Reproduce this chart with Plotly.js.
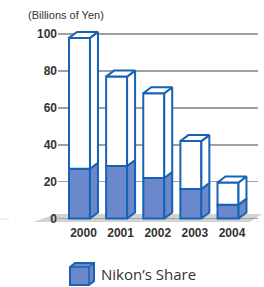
<!DOCTYPE html>
<html>
<head>
<meta charset="utf-8">
<script src="https://cdn.plot.ly/plotly-3.0.1.min.js"></script>
<style>
html,body{margin:0;padding:0;background:#fff;}
#chart{width:264px;height:287px;}
</style>
</head>
<body>
<div id="chart"></div>
<script>
// ---- data ----
var years = ['2000', '2001', '2002', '2003', '2004'];
var totalSales = [98, 77, 68, 42, 19.5];
var nikonShare = [27, 28.5, 22, 16, 7.5];
var yTicks = [0, 20, 40, 60, 80, 100];

// ---- style ----
var BLUE = '#6b88cc';
var EDGE = '#1862b6';
var W = 0.565;      // bar width (x units)
var DX = 0.215;     // depth offset in x units
var DY = 3.25;      // depth offset in y units

var idx = years.map(function (_, i) { return i; });
var rest = totalSales.map(function (t, i) { return t - nikonShare[i]; });

// plot area in pixels (for paper-coordinate decorations)
var L = 58, R = 258, T = 25, B = 224;
function px(x) { return (x - L) / (R - L); }
function py(y) { return (B - y) / (B - T); }

function polys(fn) {
  var xs = [], ys = [];
  idx.forEach(function (i) {
    var p = fn(i);
    p.forEach(function (pt) { xs.push(pt[0]); ys.push(pt[1]); });
    xs.push(p[0][0]); ys.push(p[0][1]);
    xs.push(null); ys.push(null);
  });
  return {x: xs, y: ys};
}

var sideLow = polys(function (i) {
  var r = i + W / 2;
  return [[r, 0], [r + DX, DY], [r + DX, nikonShare[i] + DY], [r, nikonShare[i]]];
});
var sideHigh = polys(function (i) {
  var r = i + W / 2;
  return [[r, nikonShare[i]], [r + DX, nikonShare[i] + DY], [r + DX, totalSales[i] + DY], [r, totalSales[i]]];
});
var tops = polys(function (i) {
  var l = i - W / 2, r = i + W / 2, t = totalSales[i];
  return [[l, t], [r, t], [r + DX, t + DY], [l + DX, t + DY]];
});

var traces = [
  {type: 'bar', x: idx, y: nikonShare, width: W, name: "Nikon’s Share",
   marker: {color: BLUE, line: {color: EDGE, width: 2}}, showlegend: false, hoverinfo: 'skip'},
  {type: 'bar', x: idx, y: rest, base: nikonShare, width: W,
   marker: {color: '#ffffff', line: {color: EDGE, width: 2}}, showlegend: false, hoverinfo: 'skip'},
  {type: 'scatter', mode: 'lines', x: sideLow.x, y: sideLow.y, fill: 'toself', fillcolor: BLUE,
   line: {color: EDGE, width: 2}, showlegend: false, hoverinfo: 'skip'},
  {type: 'scatter', mode: 'lines', x: sideHigh.x, y: sideHigh.y, fill: 'toself', fillcolor: '#ffffff',
   line: {color: EDGE, width: 2}, showlegend: false, hoverinfo: 'skip'},
  {type: 'scatter', mode: 'lines', x: tops.x, y: tops.y, fill: 'toself', fillcolor: '#ffffff',
   line: {color: EDGE, width: 2}, showlegend: false, hoverinfo: 'skip'}
];

var shapes = [
  // floor
  {type: 'path', xref: 'paper', yref: 'paper', layer: 'between',
   path: 'M' + px(33) + ',' + py(222) + ' L' + px(250) + ',' + py(222) + ' L' + px(262) + ',' + py(214) +
         ' L' + px(56) + ',' + py(214) + ' Z',
   fillcolor: '#d2d2d2', line: {width: 0}},
  {type: 'line', xref: 'paper', yref: 'paper', layer: 'between',
   x0: px(0), x1: px(9), y0: py(219), y1: py(219), line: {color: '#dddddd', width: 1}},
  // legend cube
  {type: 'path', xref: 'paper', yref: 'paper', layer: 'above',
   path: 'M' + px(70) + ',' + py(267) + ' L' + px(75) + ',' + py(263) + ' L' + px(94) + ',' + py(263) +
         ' L' + px(94) + ',' + py(281) + ' L' + px(89) + ',' + py(285) + ' L' + px(70) + ',' + py(285) + ' Z',
   fillcolor: BLUE, line: {color: EDGE, width: 2}},
  {type: 'path', xref: 'paper', yref: 'paper', layer: 'above',
   path: 'M' + px(70) + ',' + py(267) + ' L' + px(89) + ',' + py(267) + ' L' + px(89) + ',' + py(285) +
         ' M' + px(89) + ',' + py(267) + ' L' + px(94) + ',' + py(263),
   line: {color: EDGE, width: 1.5}}
];

var layout = {
  width: 264, height: 287,
  margin: {l: L, r: 264 - R, t: T, b: 287 - B, pad: 0},
  paper_bgcolor: '#ffffff', plot_bgcolor: '#ffffff',
  barmode: 'overlay',
  showlegend: false,
  font: {family: 'Liberation Sans, Arial, sans-serif', color: '#333333'},
  xaxis: {
    range: [-0.579, 4.808], showgrid: false, zeroline: false, showline: false,
    tickmode: 'array', tickvals: idx.map(function (i) { return i + DX / 2; }), ticktext: years,
    ticks: '', tickfont: {size: 12, family: 'Liberation Sans, Arial, sans-serif', weight: 'bold', color: '#333333'},
    fixedrange: true
  },
  yaxis: {
    range: [-3, 105], showgrid: true, gridcolor: '#a0a0a0', gridwidth: 1.5,
    zeroline: false, showline: false,
    tickmode: 'array', tickvals: yTicks, ticks: '',
    tickfont: {size: 12, family: 'Liberation Sans, Arial, sans-serif', weight: 'bold', color: '#333333'},
    fixedrange: true
  },
  shapes: shapes,
  annotations: [
    {text: '(Billions of Yen)', xref: 'paper', yref: 'paper', x: px(26), y: py(15),
     xanchor: 'left', yanchor: 'middle', showarrow: false,
     font: {size: 11, color: '#333333', family: 'Liberation Sans, Arial, sans-serif'}},
    {text: 'Nikon’s Share', xref: 'paper', yref: 'paper', x: px(99), y: py(274),
     xanchor: 'left', yanchor: 'middle', showarrow: false,
     font: {size: 15, color: '#333333', family: 'Open Sans, Liberation Sans, sans-serif'}}
  ]
};

Plotly.newPlot('chart', traces, layout, {displayModeBar: false, staticPlot: true});
</script>
</body>
</html>
